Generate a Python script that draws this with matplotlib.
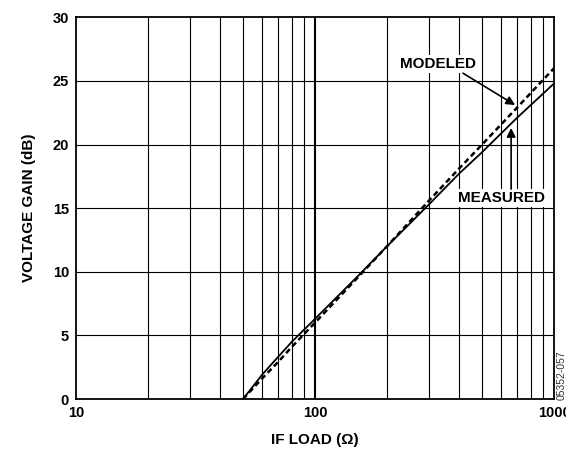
import numpy as np
import matplotlib.pyplot as plt

plt.rcParams['font.family'] = ['Liberation Sans', 'DejaVu Sans']

# IF load (ohm) and voltage gain (dB)
load_measured = [50, 60, 70, 80, 100, 150, 200, 300, 400, 500, 700, 1000]
gain_measured = [0.0, 1.9, 3.3, 4.5, 6.3, 9.6, 12.0, 15.3, 17.7, 19.4, 22.1, 24.8]

load_modeled = [50, 60, 70, 80, 100, 150, 200, 300, 400, 500, 700, 1000]
gain_modeled = [0.0, 1.6, 2.9, 4.1, 6.0, 9.5, 12.0, 15.6, 18.1, 20.0, 22.9, 26.0]

fig = plt.figure(figsize=(5.66, 4.53), dpi=100)
ax = fig.add_axes([0.134, 0.119, 0.845, 0.843])

ax.plot(load_measured, gain_measured, color='black', lw=1.3, zorder=3)
ax.plot(load_modeled, gain_modeled, color='black', lw=1.8, ls=(0, (2.2, 1.4)), zorder=3)

ax.set_xscale('log')
ax.set_xlim(10, 1000)
ax.set_ylim(0, 30)

# grid
for v in list(range(20, 100, 10)) + list(range(200, 1000, 100)):
    ax.axvline(v, color='black', lw=0.8, zorder=1)
ax.axvline(100, color='black', lw=1.5, zorder=1)
for g in range(5, 30, 5):
    ax.axhline(g, color='black', lw=0.8, zorder=1)

ax.set_xticks([10, 100, 1000])
ax.set_xticklabels(['10', '100', '1000'])
ax.minorticks_off()
ax.set_yticks(range(0, 31, 5))
ax.tick_params(length=0, labelsize=10.5, pad=5)
for lbl in ax.get_xticklabels() + ax.get_yticklabels():
    lbl.set_fontweight('bold')
for s in ax.spines.values():
    s.set_linewidth(1.3)

ax.set_xlabel('IF LOAD (Ω)', fontsize=11, fontweight='bold', labelpad=9)
ax.set_ylabel('VOLTAGE GAIN (dB)', fontsize=11, fontweight='bold', labelpad=12)

box = dict(facecolor='white', edgecolor='none', pad=1.5)
arrow = dict(arrowstyle='-|>', color='black', lw=1.2, mutation_scale=13,
             shrinkA=0, shrinkB=0)

ax.text(327, 26.3, 'MODELED', fontsize=11, fontweight='bold',
        ha='center', va='center', bbox=box, zorder=5)
ax.annotate('', xy=(687, 23.1), xytext=(416, 25.6), arrowprops=arrow, zorder=5)

ax.text(600, 15.8, 'MEASURED', fontsize=11, fontweight='bold',
        ha='center', va='center', bbox=box, zorder=5)
ax.annotate('', xy=(661, 21.3), xytext=(661, 16.5), arrowprops=arrow, zorder=5)

fig.text(0.992, 0.117, '05352-057', rotation=90, fontsize=7.5,
         ha='center', va='bottom', color='#333333')

fig.savefig('out.png', dpi=100)
